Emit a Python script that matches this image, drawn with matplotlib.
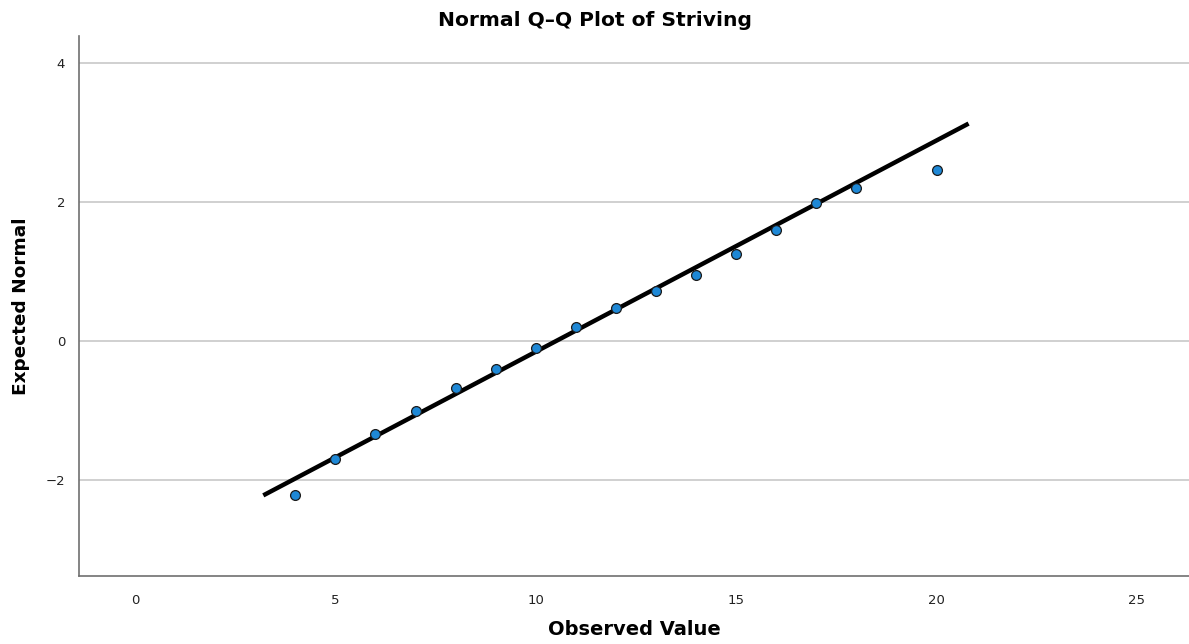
import matplotlib
matplotlib.use("Agg")
import matplotlib.pyplot as plt

observed = [4, 5, 6, 7, 8, 9, 10, 11, 12, 13, 14, 15, 16, 17, 18, 20]
expected = [-2.21, -1.70, -1.33, -1.00, -0.68, -0.40, -0.10, 0.20, 0.48, 0.72, 0.95, 1.26, 1.60, 1.98, 2.20, 2.46]
line_x = [3.2, 20.8]
line_y = [-2.22, 3.13]
xticks = [0, 5, 10, 15, 20, 25]
yticks = [-2, 0, 2, 4]

plt.rcParams['font.family'] = ['DejaVu Sans']

fig = plt.figure(figsize=(11.89, 6.44), dpi=100)
ax = fig.add_axes([0.0664, 0.1056, 0.9336, 0.8385])

for yt in yticks:
    ax.axhline(yt, color='#c8c8c8', lw=1.2, zorder=0)

ax.plot(line_x, line_y, color='black', lw=3.2, solid_capstyle='butt', zorder=2)
ax.scatter(observed, expected, s=50, color='#1e88d6', edgecolors='#1a1a1a', linewidths=0.9, zorder=3)

ax.set_xlim(-1.4, 26.3)
ax.set_ylim(-3.38, 4.39)
ax.set_xticks(xticks)
ax.set_yticks(yticks)
ax.set_yticklabels([str(v).replace('-', '\u2212') for v in yticks])
ax.tick_params(length=0, labelsize=9.5, colors='#222222', pad=10)
ax.tick_params(axis='x', pad=13)

for s in ['top', 'right']:
    ax.spines[s].set_visible(False)
for s in ['left', 'bottom']:
    ax.spines[s].set_color('#707070')
    ax.spines[s].set_linewidth(1.2)

fig.text(0.5, 1 - 20 / 644, 'Normal Q\u2013Q Plot of Striving', fontsize=14.6,
         fontweight='bold', ha='center', va='center')
ax.set_xlabel('Observed Value', fontsize=14, fontweight='bold', labelpad=9)
ax.set_ylabel('Expected Normal', fontsize=13.3, fontweight='bold', labelpad=11)

fig.savefig('out.png', dpi=100)
